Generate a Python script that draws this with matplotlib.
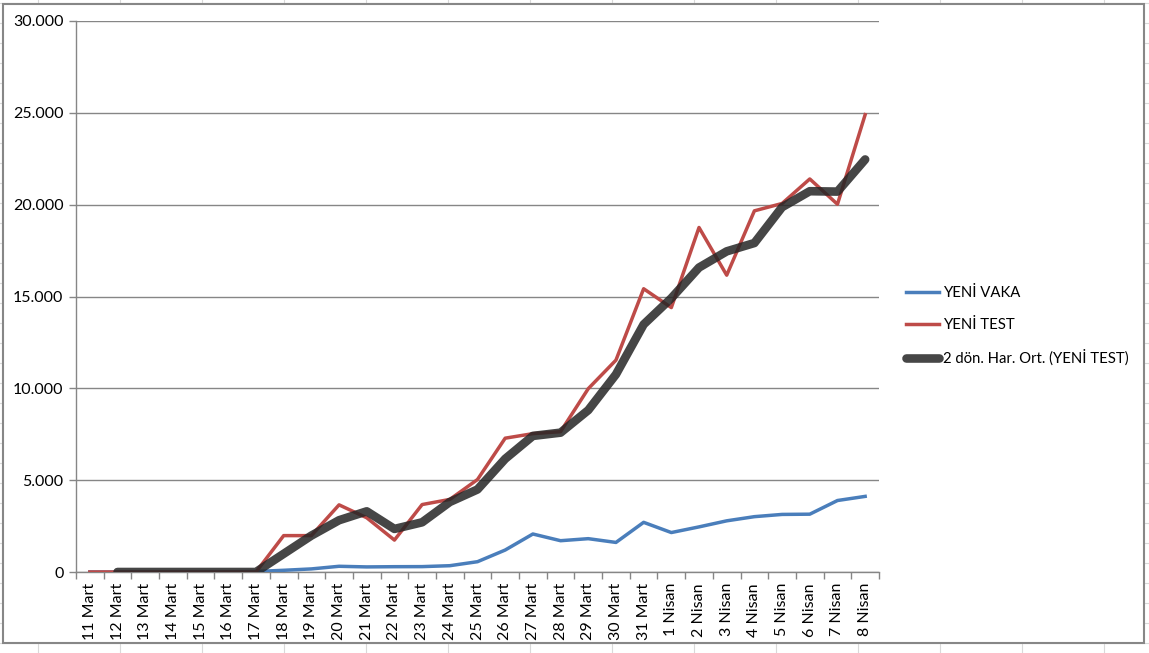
import matplotlib
matplotlib.use("Agg")
import matplotlib.pyplot as plt
import numpy as np
import pandas as pd
from matplotlib.ticker import FuncFormatter, FixedLocator
from matplotlib.patches import Rectangle

dates = ["11 Mart", "12 Mart", "13 Mart", "14 Mart", "15 Mart", "16 Mart", "17 Mart",
         "18 Mart", "19 Mart", "20 Mart", "21 Mart", "22 Mart", "23 Mart", "24 Mart",
         "25 Mart", "26 Mart", "27 Mart", "28 Mart", "29 Mart", "30 Mart", "31 Mart",
         "1 Nisan", "2 Nisan", "3 Nisan", "4 Nisan", "5 Nisan", "6 Nisan", "7 Nisan", "8 Nisan"]
yeni_vaka = [1, 0, 4, 0, 1, 12, 29, 93, 168, 311, 277, 289, 293, 343, 561, 1196, 2069,
             1704, 1815, 1610, 2704, 2148, 2456, 2786, 3013, 3135, 3148, 3892, 4117]
yeni_test = [0, 0, 0, 0, 0, 0, 0, 1981, 1981, 3656, 2952, 1738, 3672, 3952, 5035, 7286,
             7533, 7641, 9982, 11535, 15422, 14396, 18757, 16160, 19664, 20065, 21400,
             20023, 24900]
y_ticks = [0, 5000, 10000, 15000, 20000, 25000, 30000]

W, H = 1149, 653
fig = plt.figure(figsize=(W / 100, H / 100), dpi=100)
plt.rcParams['font.family'] = ['Lato', 'DejaVu Sans']

# Background: spreadsheet cell grid and chart area frame
bg = fig.add_axes([0, 0, 1, 1], zorder=0)
bg.set_xlim(0, W)
bg.set_ylim(H, 0)
bg.axis("off")
for x in range(38, W, 82):
    bg.plot([x, x], [0, H], color="#d9d9d9", lw=0.8)
for y in range(3, H, 20):
    bg.plot([0, W], [y, y], color="#d9d9d9", lw=0.8)
bg.add_patch(Rectangle((2.5, 3.5), 1141.5, 639.5, facecolor="white",
                       edgecolor="#878787", lw=1.5, zorder=3))

# Main plot
L, R, T, B = 76, 879, 21, 572
ax = fig.add_axes([L / W, 1 - B / H, (R - L) / W, (B - T) / H], zorder=1)
ax.set_facecolor("none")
x = np.arange(len(dates))
avg = pd.Series(yeni_test, dtype=float).rolling(2).mean().to_numpy()

ax.plot(x, yeni_vaka, color="#4a7ebb", lw=2.5, label="YENİ VAKA", zorder=3)
ax.plot(x, yeni_test, color="#be4b48", lw=2.5, label="YENİ TEST", zorder=4)
ax.plot(x, avg, color="#262626", alpha=0.85, lw=6.2, solid_capstyle="round",
        label="2 dön. Har. Ort. (YENİ TEST)", zorder=5)

ax.set_xlim(-0.5, len(dates) - 0.5)
ax.set_ylim(0, 30000)
ax.yaxis.set_major_locator(FixedLocator(y_ticks))
ax.yaxis.set_major_formatter(FuncFormatter(lambda v, p: f"{int(v):,}".replace(",", ".")))
ax.set_xticks(x)
ax.set_xticklabels(dates, rotation=90)
ax.set_xticks(np.arange(-0.5, len(dates), 1), minor=True)
ax.tick_params(axis="x", which="major", length=0, pad=8, labelsize=11.5, colors="black")
ax.tick_params(axis="x", which="minor", length=5, color="#868686", width=1)
ax.tick_params(axis="y", length=5, color="#868686", width=1, labelsize=11.5, pad=4)
ax.grid(axis="y", color="#868686", lw=1)
ax.set_axisbelow(True)
for s in ["top", "right"]:
    ax.spines[s].set_visible(False)
for s in ["left", "bottom"]:
    ax.spines[s].set_color("#868686")
    ax.spines[s].set_linewidth(1)

leg = fig.legend(loc="center left", bbox_to_anchor=(893 / W, 1 - 326 / H), frameon=False,
                 fontsize=10.7, handlelength=2.2, handletextpad=0.25, labelspacing=1.2)

fig.savefig("out.png", dpi=100)
